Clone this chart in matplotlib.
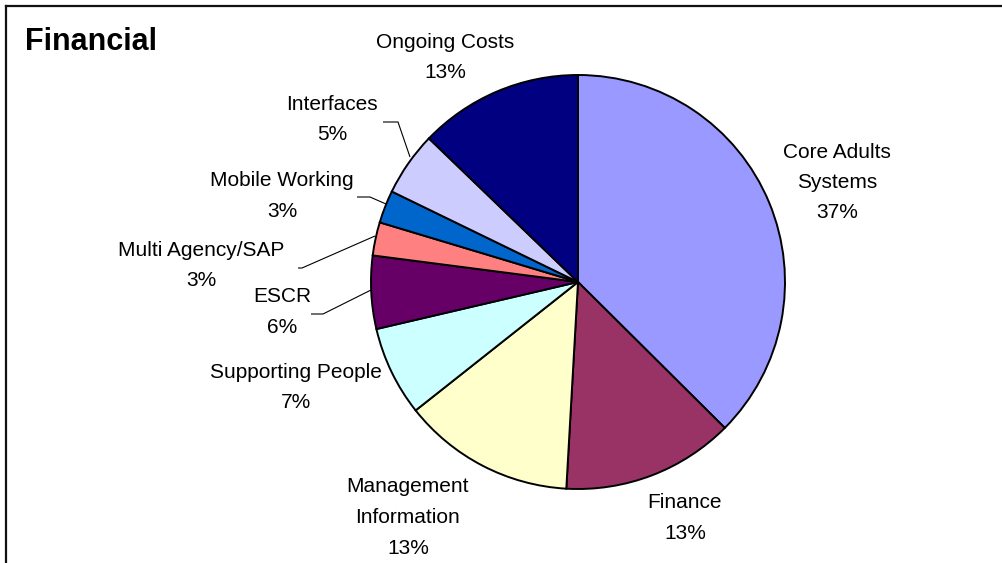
import matplotlib
matplotlib.use("Agg")
import matplotlib.pyplot as plt

# Budget split by workstream (share of total, %)
categories = [
    "Core Adults\nSystems",
    "Finance",
    "Management\nInformation",
    "Supporting People",
    "ESCR",
    "Multi Agency/SAP",
    "Mobile Working",
    "Interfaces",
    "Ongoing Costs",
]
shares = [37.45, 13.45, 13.45, 7.0, 5.7, 2.6, 2.55, 5.0, 12.8]
colors = ["#9999FF", "#993366", "#FFFFCC", "#CCFFFF", "#660066",
          "#FF8080", "#0066CC", "#CCCCFF", "#000080"]
title = "Financial"

W, H = 1002, 563
fig = plt.figure(figsize=(W / 100, H / 100), dpi=100)
ax = fig.add_axes([0, 0, 1, 1])


def Y(y_px):
    # work in pixel units measured from the top edge
    return H - y_px


cx, cy, r = 578, 282, 207
ax.pie(shares, colors=colors, startangle=90, counterclock=False,
       center=(cx, Y(cy)), radius=r,
       wedgeprops=dict(edgecolor="black", linewidth=1.4))
ax.set_xlim(0, W)
ax.set_ylim(0, H)
ax.set_aspect("equal")
ax.axis("off")

total = sum(shares)
pct = [f"{round(100 * v / total + 1e-9):d}%" for v in shares]

# label anchor (centre x, first-line centre y) in pixels
label_pos = [
    (837, 152),
    (685, 503),
    (408, 487),
    (296, 372),
    (282, 297),
    (201, 250),
    (282, 181),
    (332, 104),
    (445, 42),
]
line_gap = 30.5
font = dict(family="Liberation Sans", size=15, color="black")
for name, p, (lx, ly) in zip(categories, pct, label_pos):
    lines = name.split("\n") + [p]
    for i, t in enumerate(lines):
        ax.text(lx, Y(ly + i * line_gap), t, ha="center", va="center", **font)

# leader lines for the small slices
leaders = [
    [(311, 314), (323, 314), (371, 290)],   # ESCR
    [(298, 268), (302, 268), (375, 236)],   # Multi Agency/SAP
    [(357, 197), (370, 197), (386, 204)],   # Mobile Working
    [(383, 122), (398, 122), (410, 157)],   # Interfaces
]
for pts in leaders:
    ax.plot([p[0] for p in pts], [Y(p[1]) for p in pts],
            color="black", linewidth=0.8, solid_capstyle="butt")

# chart title
ax.text(25, Y(42), title, ha="left", va="center",
        family="Liberation Sans", fontweight="bold", size=22, color="black")

# chart area border (top and left edges)
ax.plot([6, W], [Y(6), Y(6)], color="#111111", linewidth=1.6)
ax.plot([6, 6], [Y(6), 0], color="#111111", linewidth=1.6)

fig.savefig("out.png", dpi=100)
